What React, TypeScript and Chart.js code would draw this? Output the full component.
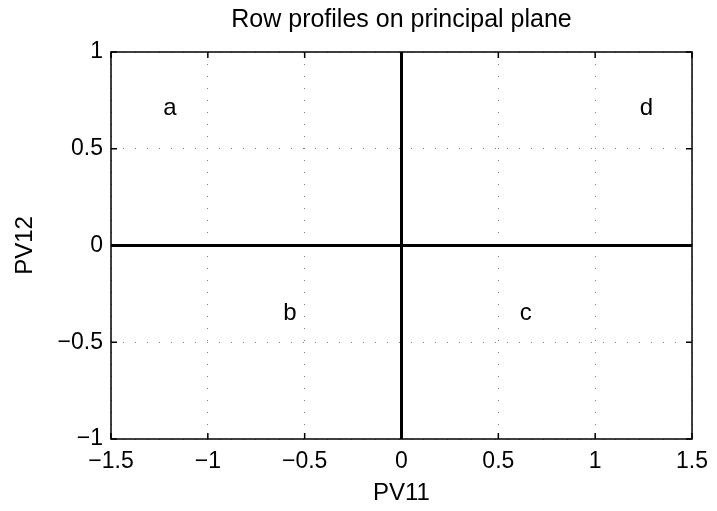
import React, { useEffect, useRef } from 'react';
import { Chart, registerables } from 'chart.js';

Chart.register(...registerables);

const titleText = 'Row profiles on principal plane';
const xTitleText = 'PV11';
const yTitleText = 'PV12';
const pointLabels = ['a', 'b', 'c', 'd'];
const pointX = [-1.23, -0.61, 0.61, 1.23];
const pointY = [0.71, -0.35, -0.35, 0.71];
const xTickValues = [-1.5, -1, -0.5, 0, 0.5, 1, 1.5];
const yTickValues = [-1, -0.5, 0, 0.5, 1];
const xRange = [-1.5, 1.5];
const yRange = [-1, 1];

const FONT = '"Liberation Sans", Arial, Helvetica, sans-serif';

const fmt = (v: number) => (v < 0 ? '\u2212' + String(Math.abs(v)) : String(v));

const overlayPlugin = {
  id: 'overlay',
  afterDatasetsDraw(chart: any) {
    const ctx = chart.ctx;
    const meta = chart.getDatasetMeta(0);
    ctx.save();
    ctx.fillStyle = '#000';
    ctx.font = `24px ${FONT}`;
    ctx.textAlign = 'left';
    ctx.textBaseline = 'middle';
    meta.data.forEach((el: any, i: number) => {
      ctx.fillText(pointLabels[i], el.x, el.y);
    });
    ctx.restore();
  },
  afterDraw(chart: any) {
    const ctx = chart.ctx;
    const { left, right, top, bottom } = chart.chartArea;
    const xs = chart.scales.x;
    const ys = chart.scales.y;
    ctx.save();
    ctx.strokeStyle = '#000';
    ctx.lineWidth = 1.5;
    ctx.setLineDash([]);
    const tl = 6;
    ctx.beginPath();
    xTickValues.forEach((v) => {
      const px = xs.getPixelForValue(v);
      ctx.moveTo(px, bottom);
      ctx.lineTo(px, bottom - tl);
      ctx.moveTo(px, top);
      ctx.lineTo(px, top + tl);
    });
    yTickValues.forEach((v) => {
      const py = ys.getPixelForValue(v);
      ctx.moveTo(left, py);
      ctx.lineTo(left + tl, py);
      ctx.moveTo(right, py);
      ctx.lineTo(right - tl, py);
    });
    ctx.stroke();
    ctx.strokeRect(left, top, right - left, bottom - top);
    ctx.restore();
  },
};

export default function App() {
  const ref = useRef<HTMLCanvasElement>(null);
  useEffect(() => {
    document.body.style.margin = '0';
    const canvas = ref.current!;
    const chart = new Chart(canvas, {
      type: 'scatter',
      data: {
        datasets: [
          {
            data: pointX.map((x, i) => ({ x, y: pointY[i] })),
            pointRadius: 0,
            pointHoverRadius: 0,
            showLine: false,
          },
          {
            data: [
              { x: xRange[0], y: 0 },
              { x: xRange[1], y: 0 },
            ],
            showLine: true,
            borderColor: '#000',
            borderWidth: 3,
            pointRadius: 0,
          },
          {
            data: [
              { x: 0, y: yRange[0] },
              { x: 0, y: yRange[1] },
            ],
            showLine: true,
            borderColor: '#000',
            borderWidth: 3,
            pointRadius: 0,
          },
        ],
      },
      options: {
        responsive: false,
        animation: false,
        events: [],
        layout: { padding: { left: 0, right: 24, top: 0, bottom: 0 } },
        plugins: {
          legend: { display: false },
          tooltip: { enabled: false },
          title: {
            display: true,
            fullSize: false,
            text: titleText,
            color: '#000',
            font: { family: FONT, size: 25, weight: 'normal', lineHeight: 1.2 },
            padding: { top: 5.5, bottom: 16.5 },
          },
        },
        scales: {
          x: {
            type: 'linear',
            min: xRange[0],
            max: xRange[1],
            afterBuildTicks: (s: any) => {
              s.ticks = xTickValues.map((v) => ({ value: v }));
            },
            afterFit: (s: any) => {
              s.height = 72;
            },
            grid: {
              color: '#808080',
              lineWidth: 1,
              drawTicks: false,
            },
            border: { display: false, dash: [1, 11] },
            ticks: {
              color: '#000',
              padding: 9,
              maxRotation: 0,
              autoSkip: false,
              font: { family: FONT, size: 23 },
              callback: (v: any) => fmt(Number(v)),
            },
            title: {
              display: true,
              text: xTitleText,
              color: '#000',
              font: { family: FONT, size: 24, lineHeight: 1.2 },
              padding: { top: 0, bottom: 3.6 },
            },
          },
          y: {
            type: 'linear',
            min: yRange[0],
            max: yRange[1],
            afterBuildTicks: (s: any) => {
              s.ticks = yTickValues.map((v) => ({ value: v }));
            },
            afterFit: (s: any) => {
              s.width = 111;
            },
            grid: {
              color: '#808080',
              lineWidth: 1,
              drawTicks: false,
            },
            border: { display: false, dash: [1, 11] },
            ticks: {
              color: '#000',
              padding: 8,
              autoSkip: false,
              font: { family: FONT, size: 23 },
              callback: (v: any) => fmt(Number(v)),
            },
            title: {
              display: true,
              text: yTitleText,
              color: '#000',
              font: { family: FONT, size: 24, lineHeight: 1.2 },
              padding: { top: 10.6, bottom: 0 },
            },
          },
        },
      },
      plugins: [overlayPlugin],
    } as any);
    return () => chart.destroy();
  }, []);
  return (
    <div style={{ width: 717, height: 511 }}>
      <canvas ref={ref} width={717} height={511} />
    </div>
  );
}
